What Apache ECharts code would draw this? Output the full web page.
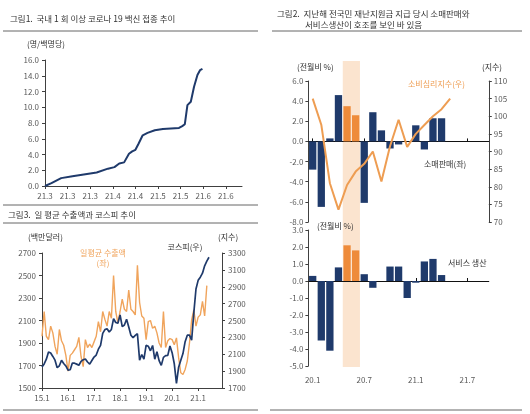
<!DOCTYPE html>
<html><head><meta charset="utf-8">
<script src="https://cdn.jsdelivr.net/npm/echarts@6/dist/echarts.min.js"></script>
<style>html,body{margin:0;padding:0;background:#fff}#c{width:530px;height:414px}</style>
</head><body><div id="c"></div>
<script>
const FONT = '"Noto Sans CJK KR", "Noto Sans", sans-serif';

// ---------- Panel 1 : vaccination ----------
const vaxTickDays   = [0, 14, 28, 42, 56, 70, 84, 98, 112];
const vaxTickLabels = ['21.3','21.3','21.3','21.4','21.4','21.5','21.5','21.6','21.6'];
const vaxDays = [0, 4, 10, 17, 24, 32, 39, 43, 46, 49, 52, 54, 56, 58, 60.5, 63.5, 68, 73, 83, 85, 86.6, 88.2, 90.3, 92.3, 94.4, 96, 97.5];
const vaxRate = [0, 0.36, 1.0, 1.25, 1.47, 1.72, 2.2, 2.4, 2.85, 3.0, 4.1, 4.4, 4.6, 5.4, 6.44, 6.74, 7.08, 7.25, 7.37, 7.6, 7.85, 10.27, 10.7, 12.6, 14.1, 14.7, 14.86];

// ---------- Panel 3 : exports & KOSPI (monthly from 2015.1) ----------
const exportDaily = [
  1960, 2180, 1960, 1930, 2050, 1990, 1870, 1800, 2020, 1920, 1880, 1790,
  1650, 1790, 1810, 1840, 1870, 1950, 1780, 1690, 1930, 1860, 1890, 1860,
  1910, 1960, 2090, 2000, 2180, 2110, 2050, 2180, 2120, 2500, 2180, 2080,
  2180, 2290, 2200, 2180, 2370, 2200, 2180, 2150, 2590, 2260, 2140, 2120,
  1930, 2090, 2100, 2030, 2050, 1990, 1900, 1860, 2180, 1860, 1920, 1940,
  1930, 1885, 1945, 1770, 1635, 1620, 1665, 1740, 1900, 2105, 2195, 2050,
  2130, 2150, 2270, 2140, 2410
];
const kospi = [
  1949, 1985, 2041, 2127, 2115, 2074, 2030, 1941, 1963, 2029, 1991, 1961,
  1912, 1916, 1996, 1994, 1983, 1970, 2016, 2034, 2044, 2008, 1983, 2026,
  2067, 2091, 2160, 2205, 2347, 2392, 2402, 2363, 2394, 2523, 2476, 2467,
  2566, 2427, 2446, 2515, 2423, 2326, 2295, 2323, 2343, 2030, 2097, 2041,
  2205, 2195, 2141, 2204, 2042, 2130, 2025, 1968, 2063, 2083, 2087, 2198,
  2119, 1987, 1754, 1947, 2030, 2108, 2249, 2326, 2327, 2267, 2591, 2873,
  2976, 3013, 3061, 3148, 3204, 3250
];
const p3Months = [];
for (let y = 15; y <= 21; y++) for (let m = 1; m <= 12; m++) p3Months.push(y + '.' + m);

// ---------- Panel 2 : retail / services ----------
const p2Months = ['20.1','20.2','20.3','20.4','20.5','20.6','20.7','20.8','20.9','20.10','20.11','20.12',
                  '21.1','21.2','21.3','21.4','21.5','21.6','21.7','21.8','21.9'];
const retailMoM  = [-2.8, -6.5, 0.3, 4.6, 3.5, 2.6, -6.1, 2.9, 1.1, -0.7, -0.3, 0, 1.6, -0.8, 2.3, 2.3];
const consumerSentiment = [105, 97.6, 81, 73.5, 80.5, 84.3, 86.5, 90, 81.5, 91.5, 99, 91.3, 95, 97.5, 100, 102, 105];
const serviceMoM = [0.3, -3.5, -4.1, 0.8, 2.1, 1.8, 0.4, -0.4, 0, 0.85, 0.85, -1.0, -0.1, 1.15, 1.3, 0.35];
const stimulusMonths = ['20.5', '20.6'];

const NAVY = '#1F3A6B', ORANGE_BAR = '#EE8B3A', ORANGE_LINE = '#EE9D52', ORANGE_EXP = '#F0A45C';
const BAND = '#FBE4CF', TXT = '#333333', AX = '#595959', AXL = '#404040';

const hi = stimulusMonths.map(m => p2Months.indexOf(m));

function valAxis(o) {
  return Object.assign({
    type: 'value', splitLine: { show: false },
    axisLine: { show: true, lineStyle: { color: AXL, width: 1 } },
    axisTick: { show: true, length: 3, lineStyle: { color: AXL } },
    axisLabel: { color: AX, fontSize: 8, fontFamily: FONT, margin: 6, formatter: v => String(v) }
  }, o);
}
function txt(text, x, y, opt) {
  opt = opt || {};
  return { type: 'text', z: 100, style: Object.assign({
    text: text, x: x, y: y, fill: opt.fill || TXT,
    font: (opt.size || 8) + 'px ' + FONT,
    textAlign: opt.align || 'left', textVerticalAlign: 'middle',
    align: opt.align || 'left', verticalAlign: 'middle'
  }) };
}
function hline(x1, x2, y) {
  return { type: 'line', z: 100, shape: { x1: x1, y1: y, x2: x2, y2: y }, style: { stroke: '#666', lineWidth: 1 } };
}

const G = { outerBoundsMode: 'none', containLabel: false };
const option = {
  animation: false,
  backgroundColor: '#fff',
  textStyle: { fontFamily: FONT },
  grid: [
    Object.assign({ left: 45, top: 60, width: 197, height: 126 }, G),          // 0 panel1
    Object.assign({ left: 42, top: 253, width: 180, height: 135 }, G),          // 1 panel3
    Object.assign({ left: 308.4, top: 81, width: 180.4, height: 141 }, G),      // 2 panel2 top
    Object.assign({ left: 308.4, top: 230, width: 180.4, height: 136 }, G),     // 3 panel2 bottom
    Object.assign({ left: 308.4, top: 61, width: 180.4, height: 306 }, G)       // 4 band
  ],
  xAxis: [
    { gridIndex: 0, type: 'value', min: 0, max: 122, splitLine: { show: false },
      axisLine: { show: true, lineStyle: { color: AXL } },
      axisTick: { show: true, length: 3, customValues: vaxTickDays, lineStyle: { color: AXL } },
      axisLabel: { customValues: vaxTickDays, color: AX, fontSize: 8, fontFamily: FONT, margin: 6,
        formatter: v => { const i = vaxTickDays.indexOf(v); return i >= 0 ? vaxTickLabels[i] : ''; } } },
    { gridIndex: 1, type: 'category', data: p3Months, boundaryGap: false,
      axisLine: { lineStyle: { color: AXL } },
      axisTick: { length: 3, interval: (i, v) => v.split('.')[1] === '1', lineStyle: { color: AXL } },
      axisLabel: { interval: (i, v) => v.split('.')[1] === '1', color: AX, fontSize: 8, fontFamily: FONT, margin: 6 } },
    { gridIndex: 2, type: 'category', data: p2Months, z: 2,
      axisLine: { onZero: true, lineStyle: { color: '#111', width: 1 } },
      axisTick: { show: true, inside: true, length: 3, interval: 5, alignWithLabel: true, lineStyle: { color: '#111' } },
      axisLabel: { show: false } },
    { gridIndex: 3, type: 'category', data: p2Months, z: 2,
      axisLine: { onZero: true, lineStyle: { color: '#111', width: 1 } },
      axisTick: { show: true, inside: true, length: 3, interval: 5, alignWithLabel: true, lineStyle: { color: '#111' } },
      axisLabel: { interval: 5, color: AX, fontSize: 8, fontFamily: FONT, margin: 10 } },
    { gridIndex: 4, type: 'value', min: 0, max: p2Months.length, show: false }
  ],
  yAxis: [
    valAxis({ gridIndex: 0, min: 0, max: 16, interval: 2, axisLabel: { color: AX, fontSize: 8, fontFamily: FONT, margin: 6, formatter: v => v.toFixed(1) } }),
    valAxis({ gridIndex: 1, min: 1500, max: 2700, interval: 200 }),
    valAxis({ gridIndex: 1, min: 1700, max: 3300, interval: 200, position: 'right' }),
    valAxis({ gridIndex: 2, min: -8, max: 6, interval: 2, z: 2, axisLabel: { color: AX, fontSize: 8, fontFamily: FONT, margin: 5, formatter: v => v.toFixed(1) } }),
    valAxis({ gridIndex: 2, min: 70, max: 110, interval: 5, position: 'right', z: 2, axisLabel: { color: AX, fontSize: 8, fontFamily: FONT, margin: 5 } }),
    valAxis({ gridIndex: 3, min: -5, max: 3, interval: 1, z: 2, axisLabel: { color: AX, fontSize: 8, fontFamily: FONT, margin: 5, formatter: v => v.toFixed(1) } }),
    { gridIndex: 4, type: 'value', min: 0, max: 1, show: false }
  ],
  series: [
    { type: 'line', z: 1, xAxisIndex: 4, yAxisIndex: 6, data: [], silent: true,
      markArea: { silent: true, itemStyle: { color: BAND },
        data: [[{ xAxis: hi[0], yAxis: 0 }, { xAxis: hi[hi.length - 1] + 1, yAxis: 1 }]] } },
    { type: 'line', z: 3, xAxisIndex: 0, yAxisIndex: 0, showSymbol: false,
      data: vaxDays.map((d, i) => [d, vaxRate[i]]),
      lineStyle: { color: NAVY, width: 2 }, itemStyle: { color: NAVY } },
    { type: 'line', z: 3, xAxisIndex: 1, yAxisIndex: 1, showSymbol: false, data: exportDaily,
      lineStyle: { color: ORANGE_EXP, width: 1.4 }, itemStyle: { color: ORANGE_EXP } },
    { type: 'line', z: 4, xAxisIndex: 1, yAxisIndex: 2, showSymbol: false, data: kospi,
      lineStyle: { color: NAVY, width: 1.7 }, itemStyle: { color: NAVY } },
    { type: 'bar', z: 3, xAxisIndex: 2, yAxisIndex: 3, data: retailMoM, barWidth: 7.3,
      itemStyle: { color: p => hi.indexOf(p.dataIndex) >= 0 ? ORANGE_BAR : NAVY } },
    { type: 'line', z: 4, xAxisIndex: 2, yAxisIndex: 4, showSymbol: false, data: consumerSentiment,
      lineStyle: { color: ORANGE_LINE, width: 2 }, itemStyle: { color: ORANGE_LINE } },
    { type: 'bar', z: 3, xAxisIndex: 3, yAxisIndex: 5, data: serviceMoM, barWidth: 7.3,
      itemStyle: { color: p => hi.indexOf(p.dataIndex) >= 0 ? ORANGE_BAR : NAVY } }
  ],
  graphic: { elements: [
    txt('그림1.  국내 1 회 이상 코로나 19 백신 접종 추이', 10, 19, { size: 8.5 }),
    hline(3, 258, 31),
    txt('(명/백명당)', 27, 44, { size: 8 }),
    hline(3, 258, 205),
    txt('그림3.  일 평균 수출액과 코스피 추이', 8, 215, { size: 8.5 }),
    hline(3, 258, 223),
    txt('(백만달러)', 28, 237, { size: 8 }),
    txt('(지수)', 218, 237, { size: 8 }),
    txt('일평균 수출액', 103, 253, { size: 8, fill: ORANGE_EXP, align: 'center' }),
    txt('(좌)', 103, 263, { size: 8, fill: ORANGE_EXP, align: 'center' }),
    txt('코스피(우)', 185, 247, { size: 8, align: 'center' }),
    hline(3, 258, 410),
    txt('그림2.  지난해 전국민 재난지원금 지급 당시 소매판매와', 277, 14, { size: 8.5 }),
    txt('서비스생산이 호조를 보인 바 있음', 305, 25, { size: 8.5 }),
    hline(272, 522, 31),
    txt('(전월비 %)', 297, 67, { size: 8 }),
    txt('(지수)', 492, 67, { size: 8, align: 'center' }),
    txt('소비심리지수(우)', 408, 84, { size: 8, fill: ORANGE_LINE }),
    txt('소매판매(좌)', 424, 164, { size: 8 }),
    txt('(전월비 %)', 317, 226, { size: 8 }),
    txt('서비스 생산', 448, 263, { size: 8 }),
    hline(270, 522, 410)
  ] }
};
echarts.init(document.getElementById('c'), null, { renderer: 'canvas' }).setOption(option);
</script></body></html>
